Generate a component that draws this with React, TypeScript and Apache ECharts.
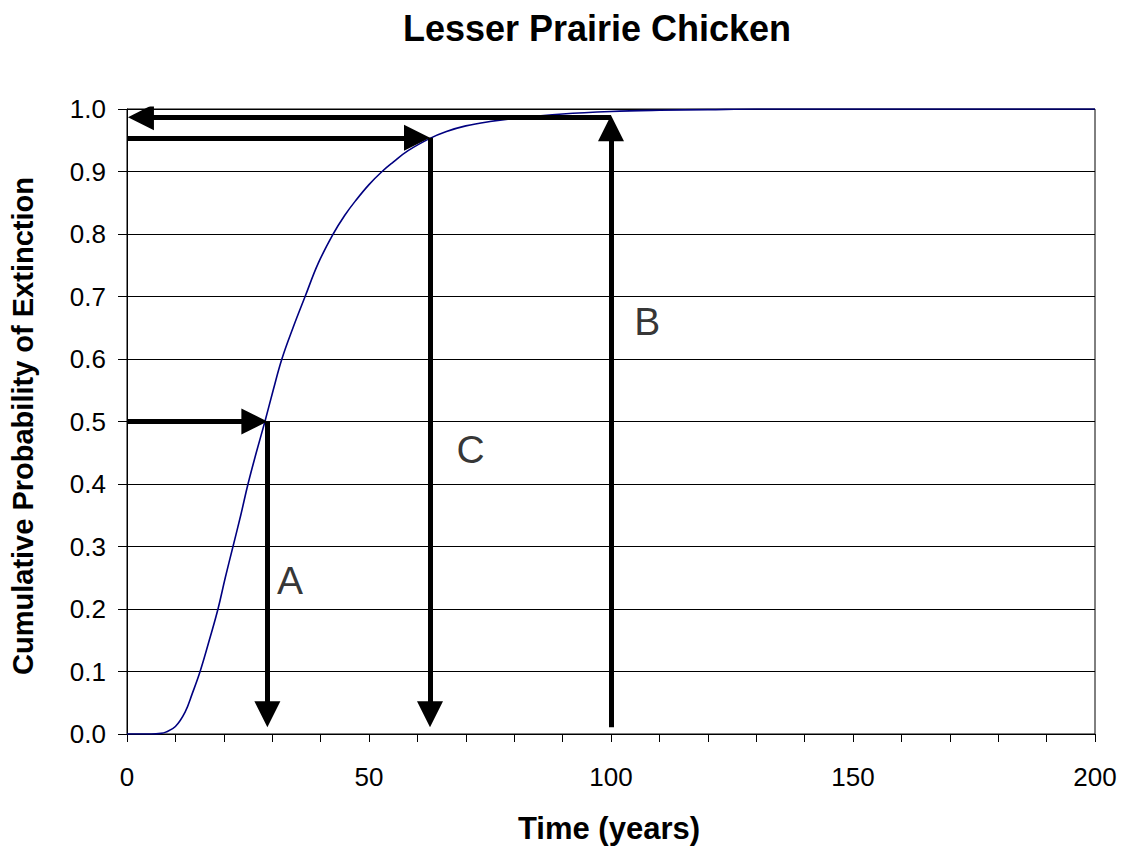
import React, { useEffect, useRef } from "react";
import * as echarts from "echarts";

// Curve: cumulative probability of extinction vs time (years)
const years = [0, 5, 7, 8, 10, 12, 13.5, 15.1, 17, 18.8, 20.3, 21.9, 23.5, 25, 26.7, 28.5, 30.2, 32, 34.3, 36.8, 39.5, 42.6, 45, 47.2, 50, 52.7, 55, 58, 62.6, 66, 70, 75, 80, 90, 100, 110, 120, 130, 150, 200];
const probability = [0, 0, 0.001, 0.003, 0.012, 0.035, 0.065, 0.1, 0.15, 0.2, 0.25, 0.3, 0.35, 0.4, 0.45, 0.5, 0.55, 0.6, 0.65, 0.7, 0.753, 0.8, 0.83, 0.853, 0.879, 0.9, 0.915, 0.933, 0.953, 0.964, 0.973, 0.98, 0.985, 0.992, 0.996, 0.998, 0.999, 1, 1, 1];

// Annotation arrows: [fromX, fromY, toX, toY] in data units (tip at "to")
const arrowsData: number[][] = [
  [0, 0.5, 29, 0.5],
  [29, 0.5, 29, 0.011],
  [0, 0.954, 62.6, 0.954],
  [62.6, 0.954, 62.6, 0.011],
  [100, 0.011, 100, 0.99],
  [100, 0.987, 0.2, 0.987],
];

// Letter labels
const letterX = [33.7, 71, 107.5];
const letterY = [0.246, 0.455, 0.66];
const letterText = ["A", "C", "B"];

const xTicksLabelled = [0, 50, 100, 150, 200];

const GRID = { left: 127, right: 30, top: 109, bottom: 114 };
const W = 1125;
const H = 848;
const X_MAX = 200;
const HEAD = 26;

export default function App() {
  const ref = useRef<HTMLDivElement>(null);
  useEffect(() => {
    document.body.style.margin = "0";
    const chart = echarts.init(ref.current!, undefined, { renderer: "svg" });
    const pxPerX = (W - GRID.left - GRID.right) / X_MAX;
    const pxPerY = H - GRID.top - GRID.bottom;
    const arrowLines = arrowsData.map(([x1, y1, x2, y2]) => {
      const dxp = (x2 - x1) * pxPerX;
      const dyp = (y2 - y1) * pxPerY;
      const len = Math.hypot(dxp, dyp);
      const s = HEAD / 2 / len;
      return {
        coords: [
          [x1, y1],
          [x2 - (x2 - x1) * s, y2 - (y2 - y1) * s],
        ],
      };
    });
    const font = "'Liberation Sans', Arial, sans-serif";
    chart.setOption({
      animation: false,
      grid: {
        left: GRID.left,
        right: GRID.right,
        top: GRID.top,
        bottom: GRID.bottom,
        show: true,
        borderColor: "#000",
        borderWidth: 1,
        backgroundColor: "transparent",
      },
      xAxis: {
        type: "value",
        min: 0,
        max: X_MAX,
        interval: 10,
        axisLine: { lineStyle: { color: "#000", width: 1 } },
        axisTick: { show: true, length: 8, inside: false, lineStyle: { color: "#000" } },
        splitLine: { show: false },
        axisLabel: {
          fontFamily: font,
          fontSize: 26,
          color: "#000",
          margin: 30,
          formatter: (v: number) => (xTicksLabelled.includes(v) ? String(v) : ""),
        },
      },
      yAxis: {
        type: "value",
        min: 0,
        max: 1,
        interval: 0.1,
        axisLine: { show: true, lineStyle: { color: "#000", width: 1 } },
        axisTick: { show: true, length: 9, inside: false, lineStyle: { color: "#000" } },
        splitLine: { show: true, lineStyle: { color: "#000", width: 1 } },
        axisLabel: {
          fontFamily: font,
          fontSize: 26,
          color: "#000",
          margin: 21,
          formatter: (v: number) => v.toFixed(1),
        },
      },
      graphic: [
        {
          type: "text",
          x: 597,
          y: 28,
          style: {
            text: "Lesser Prairie Chicken",
            font: `bold 36px ${font}`,
            fill: "#000",
            align: "center",
            verticalAlign: "middle",
          },
        },
        {
          type: "text",
          x: 609,
          y: 828,
          style: {
            text: "Time (years)",
            font: `bold 31px ${font}`,
            fill: "#000",
            align: "center",
            verticalAlign: "middle",
          },
        },
        {
          type: "text",
          x: 23,
          y: 426,
          rotation: Math.PI / 2,
          style: {
            text: "Cumulative Probability of Extinction",
            font: `bold 29px ${font}`,
            fill: "#000",
            align: "center",
            verticalAlign: "middle",
          },
        },
      ],
      series: [
        {
          type: "line",
          data: years.map((t, i) => [t, probability[i]]),
          showSymbol: false,
          smooth: 0.4,
          lineStyle: { color: "#000080", width: 1.6 },
          z: 2,
        },
        {
          type: "lines",
          coordinateSystem: "cartesian2d",
          data: arrowLines,
          symbol: ["none", "triangle"],
          symbolSize: HEAD,
          lineStyle: { color: "#000", width: 5, opacity: 1 },
          itemStyle: { color: "#000" },
          z: 3,
        },
        {
          type: "scatter",
          data: letterText.map((t, i) => ({ name: t, value: [letterX[i], letterY[i]] })),
          symbolSize: 1,
          itemStyle: { color: "rgba(0,0,0,0)" },
          label: {
            show: true,
            position: "inside",
            formatter: "{b}",
            fontFamily: font,
            fontSize: 39,
            color: "#000",
            textBorderWidth: 0,
          },
          z: 4,
        },
      ],
    });
    return () => chart.dispose();
  }, []);
  return <div ref={ref} style={{ width: W, height: H }} />;
}
